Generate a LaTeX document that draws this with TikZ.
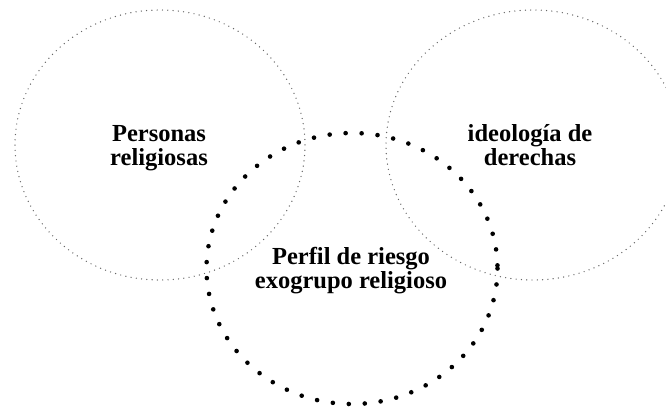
\documentclass[tikz,border=0pt]{standalone}
\usepackage{fontspec}
\setmainfont{Liberation Serif}
\begin{document}
\begin{tikzpicture}[x=1pt,y=-1pt,
  thinset/.style={draw=black!60, line width=1.4pt, line cap=round, dash pattern=on 0pt off 5.3pt},
  bigdots/.style={draw=black, line width=4.6pt, line cap=round, dash pattern=on 0pt off 16pt},
  lbl/.style={align=center, anchor=base, inner sep=0pt, font=\bfseries\fontsize{24.5}{24}\selectfont}]
\useasboundingbox (0,0) rectangle (666,408);
\clip (0,0) rectangle (666,408);
\coordinate (cl) at (160,145);
\coordinate (cr) at (533,145);
\coordinate (cb) at (352,268.5);
\draw[thinset] (cl) ellipse [x radius=145, y radius=135];
\draw[thinset] (cr) ellipse [x radius=147, y radius=135];
\draw[bigdots] (cb) ellipse [x radius=145.5, y radius=135.5];
\node[lbl] (tl) at (159,165) {Personas\\religiosas};
\node[lbl] (tr) at (530,165) {ideología de\\derechas};
\node[lbl] (tb) at (351,288) {Perfil de riesgo\\exogrupo religioso};
\end{tikzpicture}
\end{document}
